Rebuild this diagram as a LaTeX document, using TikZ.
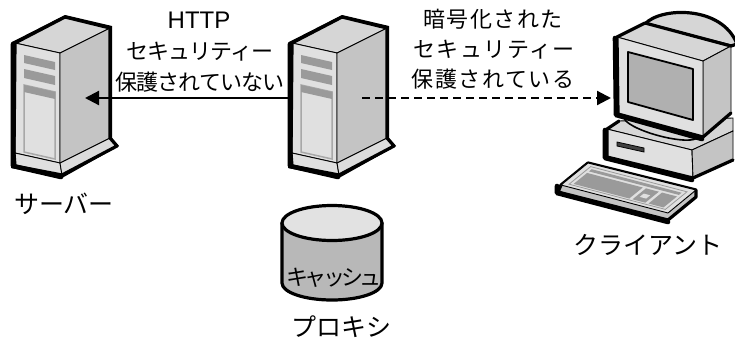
\documentclass[tikz,border=0pt]{standalone}
\usepackage{fontspec}
\setmainfont{Noto Sans CJK JP}
\newfontfamily\latinfont{Liberation Sans}
\usetikzlibrary{arrows.meta,calc}

\definecolor{frontg}{HTML}{E0E0E0}
\definecolor{topg}{HTML}{D6D6D6}
\definecolor{sideg}{HTML}{C4C4C4}
\definecolor{darkg}{HTML}{9A9A9A}
\definecolor{panelg}{HTML}{A8A8A8}
\definecolor{cylbody}{HTML}{B8B8B8}
\definecolor{cyltop}{HTML}{E2E2E2}
\definecolor{screeng}{HTML}{B0B0B0}

\tikzset{
  outline/.style={line width=3.2pt, line join=round, line cap=round},
  heavy/.style={line width=4.6pt, line join=round, line cap=round},
  edge/.style={line width=0.9pt, line join=round},
  conn/.style={line width=2.2pt, -{Triangle[length=14pt,width=14pt]}},
  connd/.style={conn, dash pattern=on 8pt off 5pt},
  lblL/.style={inner sep=0pt, anchor=base, font=\fontsize{22}{26}\selectfont\addfontfeature{LetterSpace=-4.5}},
  lblR/.style={inner sep=0pt, anchor=base, font=\fontsize{22}{26}\selectfont\addfontfeature{LetterSpace=7}},
  lblN/.style={inner sep=0pt, anchor=base, font=\fontsize{25}{28}\selectfont},
  % tower server, drawn at the origin of its own frame
  tower/.pic={
    \fill[black] (65,15) -- (112,26) -- (112,138) -- (119,146) -- (62,178) -- (11,168) -- (11,153) -- (12,42) -- cycle;
    \filldraw[fill=topg, edge] (15,43) -- (60,53) -- (110,28) -- (65,17) -- cycle;
    \filldraw[fill=frontg, edge] (15,43) -- (60,53) -- (60,163) -- (15,153) -- cycle;
    \filldraw[fill=sideg, edge] (60,53) -- (110,28) -- (110,138) -- (60,163) -- cycle;
    \filldraw[fill=frontg, edge] (15,153) -- (60,163) -- (62,175) -- (15,166) -- cycle;
    \filldraw[fill=frontg!85!sideg, edge] (60,163) -- (110,138) -- (117,146) -- (62,175) -- cycle;
    \fill[darkg] (24,55) -- (55,62) -- (55,70) -- (24,63) -- cycle;
    \fill[darkg] (24,69) -- (55,76) -- (55,85) -- (24,78) -- cycle;
    \filldraw[fill=frontg, draw=panelg, line width=1.5pt] (24,85) -- (55,92) -- (55,159) -- (24,152) -- cycle;
    \fill[darkg] (24,85) -- (55,92) -- (55,99) -- (24,92) -- cycle;
    \draw[outline] (65,17) -- (110,28) -- (110,138) -- (117,146) -- (62,175) -- (15,166) -- (14,153) -- (15,43) -- cycle;
    \draw[heavy] (13,44) -- (13,166) -- (61,177);
  }
}

\begin{document}
\begin{tikzpicture}[x=1pt, y=-1pt]
  \useasboundingbox (0,0) rectangle (735,346);
  \fill[white] (0,0) rectangle (735,346);

  % connector end points
  \coordinate (srvIn) at (85,98);
  \coordinate (prxL) at (292,98);
  \coordinate (prxR) at (362,98);
  \coordinate (cliIn) at (611,98);

  % server
  \pic (srv) at (0,0) {tower};
  \node[lblN] (srvName) at (64,213) {サーバー};

  % plain HTTP link to the server
  \draw[conn] (prxL) -- (srvIn);

  % proxy
  \pic (prx) at (277,0) {tower};
  \node[lblN] (prxName) at (341,336) {プロキシ};

  % cache cylinder
  \filldraw[fill=cylbody, outline] (282,223) -- (282,283)
    .. controls (282,292.4) and (304.4,300) .. (332,300)
    .. controls (359.6,300) and (382,292.4) .. (382,283) -- (382,223) -- cycle;
  \filldraw[fill=cyltop, outline] (332,223) ellipse [x radius=50, y radius=17.5];
  \node[inner sep=0pt, anchor=base, font=\fontsize{22}{26}\selectfont\addfontfeature{LetterSpace=-18}] (cache) at (334,285) {キャッシュ};

  % client computer: base unit
  \filldraw[fill=topg, edge] (607,129) -- (619,121) -- (733,118) -- (733,131) -- (692,150) -- cycle;
  \filldraw[fill=frontg, edge] (607,129) -- (692,150) -- (693,178) -- (607,157) -- cycle;
  \filldraw[fill=sideg, edge] (692,150) -- (733,131) -- (733,160) -- (693,178) -- cycle;
  \filldraw[fill=black!75, line width=0.8pt] (617,142) -- (644,148) -- (644,152) -- (617,146) -- cycle;
  \draw[outline] (619,121) -- (607,129) -- (607,157) -- (693,178) -- (733,160);
  \draw[heavy] (605,130) -- (605,158) -- (692,180);
  % monitor stand
  \filldraw[fill=topg, line width=1.6pt, rotate around={-15:(661,127)}] (661,127) ellipse (38pt and 9pt);
  % monitor
  \filldraw[fill=topg, outline] (645,24) .. controls (660,7) and (722,5) .. (737,44) -- (731,46) -- cycle;
  \filldraw[fill=topg, edge] (617,37) -- (645,23) -- (731,46) -- (703,61) -- cycle;
  \filldraw[fill=sideg, edge] (703,61) -- (731,46) -- (731,113) -- (703,137) -- cycle;
  \filldraw[fill=frontg, edge] (617,37) -- (703,61) -- (703,137) -- (618,114) -- cycle;
  \filldraw[fill=screeng, line width=1.8pt, line join=round] (628,52) -- (693,69) -- (693,120) -- (628,102) -- cycle;
  \draw[outline] (731,46) -- (645,23) -- (617,37) -- (618,114) -- (703,137) -- (731,113);
  \draw[heavy] (615,38) -- (616,115) -- (702,139);
  % keyboard
  \filldraw[fill=sideg, outline] (561,185) -- (588,163) -- (696,190) -- (696,197) -- (668,220) -- (558,192) -- cycle;
  \filldraw[fill=frontg, edge] (561,185) -- (588,163) -- (696,190) -- (668,213) -- cycle;
  \begin{scope}[shift={(561,185)}, x={(107pt,-28pt)}, y={(27pt,22pt)}]
    \draw[darkg, line width=0.8pt] (0.05,0.1) -- (0.95,0.1) -- (0.95,0.9) -- (0.05,0.9) -- cycle;
    \fill[darkg] (0.08,0.72) -- (0.92,0.72) -- (0.92,0.82) -- (0.08,0.82) -- cycle;
    \fill[darkg] (0.08,0.15) -- (0.6,0.15) -- (0.6,0.65) -- (0.08,0.65) -- cycle;
    \fill[darkg] (0.63,0.15) -- (0.75,0.15) -- (0.75,0.65) -- (0.63,0.65) -- cycle;
    \fill[frontg] (0.66,0.3) -- (0.72,0.3) -- (0.72,0.45) -- (0.66,0.45) -- cycle;
    \fill[darkg] (0.78,0.15) -- (0.92,0.15) -- (0.92,0.65) -- (0.78,0.65) -- cycle;
  \end{scope}
  \draw[heavy] (557,186) -- (557,193) -- (668,222);
  \node[lblN] (cliName) at (648,254) {クライアント};

  % encrypted link to the client
  \draw[connd] (prxR) -- (cliIn);

  % link labels
  \node[inner sep=0pt, anchor=base, font=\latinfont\fontsize{24}{24}\selectfont] (httpA) at (199,28) {HTTP};
  \node[lblL] (httpB) at (200,59) {セキュリティー};
  \node[lblL] (httpC) at (200,90) {保護されていない};
  \node[lblR] (encA) at (493,27) {暗号化された};
  \node[lblR] (encB) at (494,57) {セキュリティー};
  \node[lblR] (encC) at (493,87) {保護されている};
\end{tikzpicture}
\end{document}
